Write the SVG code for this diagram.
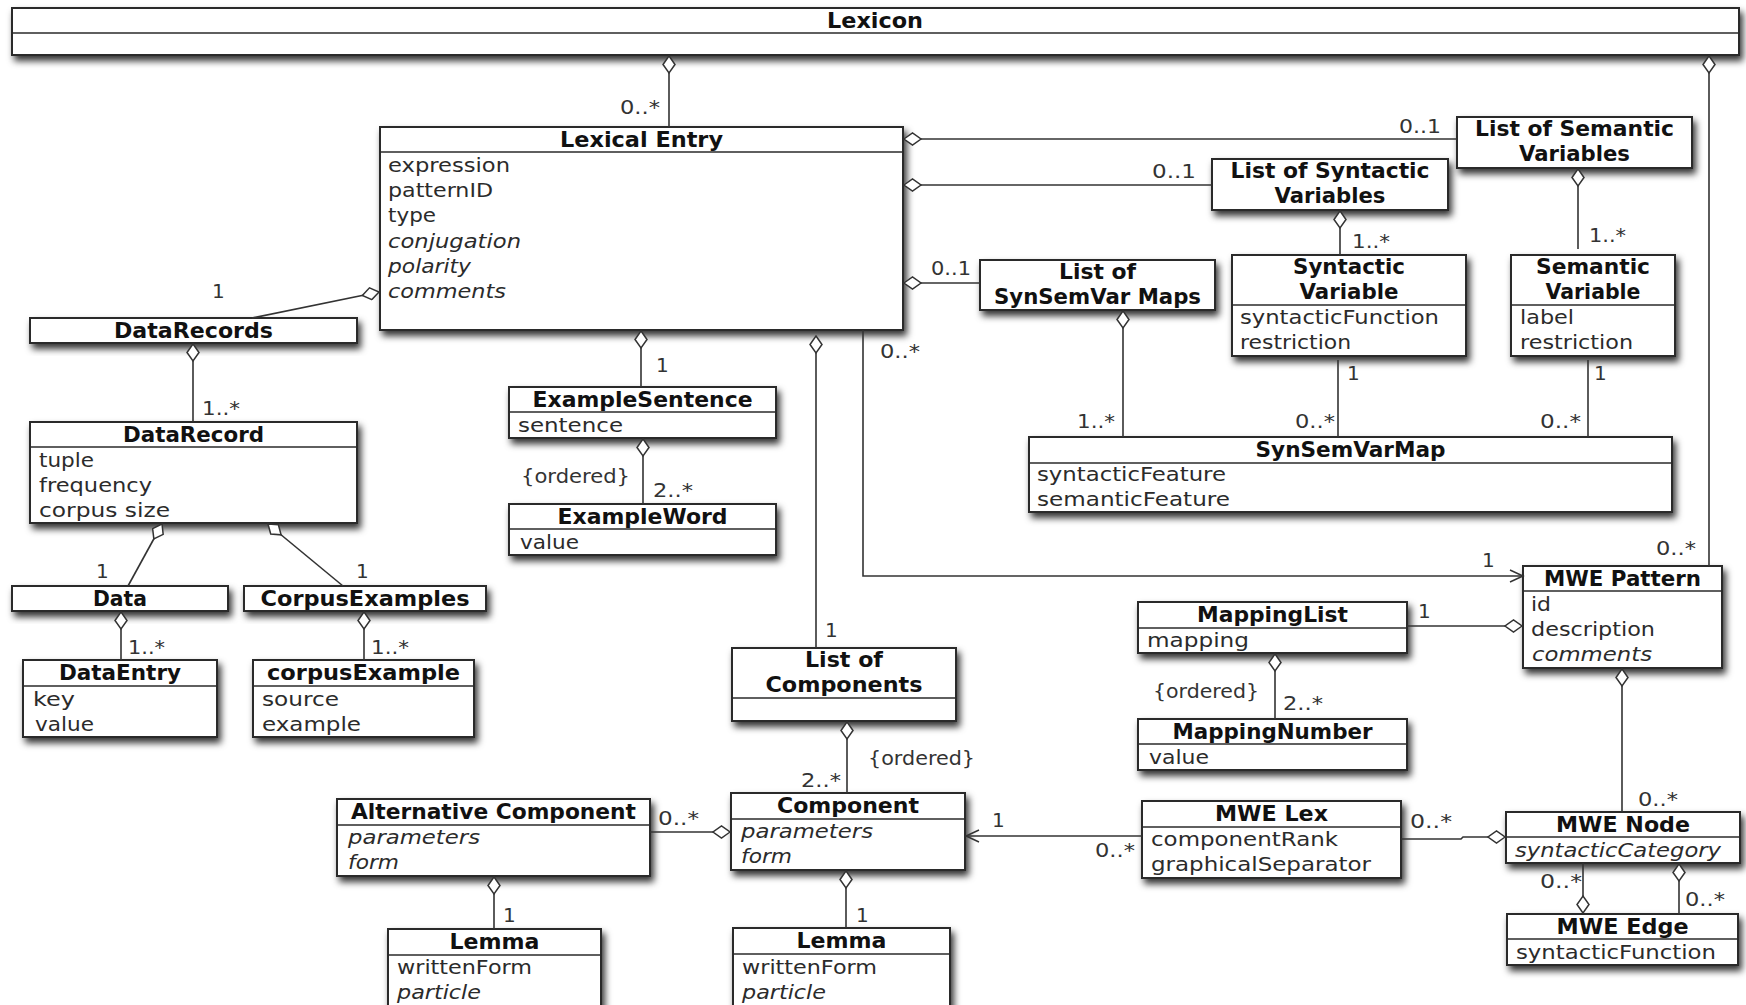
<svg xmlns="http://www.w3.org/2000/svg" width="1746" height="1005" viewBox="0 0 1746 1005">
<style>
  .box { fill: #fff; stroke: #2a2a2a; stroke-width: 2; filter: url(#shadow); }
  .sep { stroke: #2a2a2a; stroke-width: 1.6; fill: none; }
  .t { font-family: "DejaVu Sans", "Liberation Sans", sans-serif; font-size: 21px; font-weight: bold; fill: #111; text-anchor: middle; }
  .a { font-family: "DejaVu Sans", "Liberation Sans", sans-serif; font-size: 20px; fill: #2b2b2b; }
  .i { font-style: italic; }
  .m { font-family: "DejaVu Sans", "Liberation Sans", sans-serif; font-size: 20px; fill: #333; }
  .ln { fill: none; stroke: #333; stroke-width: 1.6; }
  .own { marker-start: url(#dia); }
  .nav { marker-end: url(#arr); }
</style>
<defs>
  <filter id="shadow" x="-0.1" y="-0.3" width="1.3" height="1.8">
    <feDropShadow dx="3" dy="5" stdDeviation="3.5" flood-color="#000" flood-opacity="0.8"/>
  </filter>
  <!-- hollow aggregation diamond, placed at the owning end of a path -->
  <marker id="dia" viewBox="-1 -7 20 14" refX="0" refY="0" markerWidth="20" markerHeight="14" orient="auto" markerUnits="userSpaceOnUse">
    <path d="M0,0 L8.5,-6 L17,0 L8.5,6 Z" fill="#fff" stroke="#333" stroke-width="1.5"/>
  </marker>
  <!-- open navigability arrow -->
  <marker id="arr" viewBox="-15 -8 17 16" refX="0" refY="0" markerWidth="17" markerHeight="16" orient="auto" markerUnits="userSpaceOnUse">
    <path d="M-13,-6 L0,0 L-13,6" fill="none" stroke="#333" stroke-width="1.5"/>
  </marker>
</defs>
<rect x="0" y="0" width="1746" height="1005" fill="#fff"/>

<g id="n-lexicon">
  <rect class="box" x="12" y="8" width="1727" height="47"/>
  <line class="sep" x1="12" y1="33" x2="1739" y2="33"/>
  <text class="t" x="875" y="28" textLength="96" lengthAdjust="spacingAndGlyphs">Lexicon</text>
</g>

<g id="n-lexical-entry">
  <rect class="box" x="380" y="127" width="523" height="203"/>
  <line class="sep" x1="380" y1="152" x2="903" y2="152"/>
  <text class="t" x="641.5" y="147" textLength="163" lengthAdjust="spacingAndGlyphs">Lexical Entry</text>
  <text class="a" x="388" y="172" textLength="122" lengthAdjust="spacingAndGlyphs">expression</text>
  <text class="a" x="388" y="197" textLength="105" lengthAdjust="spacingAndGlyphs">patternID</text>
  <text class="a" x="388" y="222" textLength="48" lengthAdjust="spacingAndGlyphs">type</text>
  <text class="a i" x="388" y="248" textLength="133" lengthAdjust="spacingAndGlyphs">conjugation</text>
  <text class="a i" x="388" y="273" textLength="83" lengthAdjust="spacingAndGlyphs">polarity</text>
  <text class="a i" x="388" y="298" textLength="118" lengthAdjust="spacingAndGlyphs">comments</text>
</g>

<g id="n-datarecords">
  <rect class="box" x="30" y="318" width="327" height="25"/>
  <text class="t" x="193.5" y="338" textLength="159" lengthAdjust="spacingAndGlyphs">DataRecords</text>
</g>

<g id="n-datarecord">
  <rect class="box" x="30" y="422" width="327" height="101"/>
  <line class="sep" x1="30" y1="447" x2="357" y2="447"/>
  <text class="t" x="193.5" y="442" textLength="141" lengthAdjust="spacingAndGlyphs">DataRecord</text>
  <text class="a" x="39" y="467" textLength="55" lengthAdjust="spacingAndGlyphs">tuple</text>
  <text class="a" x="39" y="492" textLength="113" lengthAdjust="spacingAndGlyphs">frequency</text>
  <text class="a" x="39" y="517" textLength="131" lengthAdjust="spacingAndGlyphs">corpus size</text>
</g>

<g id="n-data">
  <rect class="box" x="12" y="586" width="216" height="25"/>
  <text class="t" x="120" y="606" textLength="54" lengthAdjust="spacingAndGlyphs">Data</text>
</g>

<g id="n-corpusexamples">
  <rect class="box" x="244" y="586" width="242" height="25"/>
  <text class="t" x="365" y="606" textLength="209" lengthAdjust="spacingAndGlyphs">CorpusExamples</text>
</g>

<g id="n-dataentry">
  <rect class="box" x="23" y="660" width="194" height="77"/>
  <line class="sep" x1="23" y1="686" x2="217" y2="686"/>
  <text class="t" x="120" y="680" textLength="122" lengthAdjust="spacingAndGlyphs">DataEntry</text>
  <text class="a" x="33" y="706" textLength="42" lengthAdjust="spacingAndGlyphs">key</text>
  <text class="a" x="35" y="731" textLength="59" lengthAdjust="spacingAndGlyphs">value</text>
</g>

<g id="n-corpusexample">
  <rect class="box" x="253" y="660" width="221" height="77"/>
  <line class="sep" x1="253" y1="686" x2="474" y2="686"/>
  <text class="t" x="363.5" y="680" textLength="193" lengthAdjust="spacingAndGlyphs">corpusExample</text>
  <text class="a" x="262" y="706" textLength="77" lengthAdjust="spacingAndGlyphs">source</text>
  <text class="a" x="262" y="731" textLength="99" lengthAdjust="spacingAndGlyphs">example</text>
</g>

<g id="n-examplesentence">
  <rect class="box" x="509" y="387" width="267" height="51"/>
  <line class="sep" x1="509" y1="412" x2="776" y2="412"/>
  <text class="t" x="642.5" y="407" textLength="220" lengthAdjust="spacingAndGlyphs">ExampleSentence</text>
  <text class="a" x="518" y="432" textLength="105" lengthAdjust="spacingAndGlyphs">sentence</text>
</g>

<g id="n-exampleword">
  <rect class="box" x="509" y="504" width="267" height="51"/>
  <line class="sep" x1="509" y1="529" x2="776" y2="529"/>
  <text class="t" x="642.5" y="524" textLength="170" lengthAdjust="spacingAndGlyphs">ExampleWord</text>
  <text class="a" x="520" y="549" textLength="59" lengthAdjust="spacingAndGlyphs">value</text>
</g>

<g id="n-list-of-components">
  <rect class="box" x="732" y="648" width="224" height="73"/>
  <line class="sep" x1="732" y1="698" x2="956" y2="698"/>
  <text class="t" x="844" y="667" textLength="78" lengthAdjust="spacingAndGlyphs">List of</text>
  <text class="t" x="844" y="692" textLength="157" lengthAdjust="spacingAndGlyphs">Components</text>
</g>

<g id="n-component">
  <rect class="box" x="731" y="793" width="234" height="77"/>
  <line class="sep" x1="731" y1="819" x2="965" y2="819"/>
  <text class="t" x="848" y="813" textLength="142" lengthAdjust="spacingAndGlyphs">Component</text>
  <text class="a i" x="741" y="838" textLength="132" lengthAdjust="spacingAndGlyphs">parameters</text>
  <text class="a i" x="741" y="863" textLength="51" lengthAdjust="spacingAndGlyphs">form</text>
</g>

<g id="n-lemma-component">
  <rect class="box" x="733" y="928" width="217" height="92"/>
  <line class="sep" x1="733" y1="954" x2="950" y2="954"/>
  <text class="t" x="841.5" y="948" textLength="90" lengthAdjust="spacingAndGlyphs">Lemma</text>
  <text class="a" x="742" y="974" textLength="135" lengthAdjust="spacingAndGlyphs">writtenForm</text>
  <text class="a i" x="742" y="999" textLength="84" lengthAdjust="spacingAndGlyphs">particle</text>
</g>

<g id="n-alternative-component">
  <rect class="box" x="337" y="799" width="313" height="77"/>
  <line class="sep" x1="337" y1="825" x2="650" y2="825"/>
  <text class="t" x="493.5" y="819" textLength="285" lengthAdjust="spacingAndGlyphs">Alternative Component</text>
  <text class="a i" x="348" y="844" textLength="132" lengthAdjust="spacingAndGlyphs">parameters</text>
  <text class="a i" x="348" y="869" textLength="51" lengthAdjust="spacingAndGlyphs">form</text>
</g>

<g id="n-lemma-alternative">
  <rect class="box" x="388" y="929" width="213" height="92"/>
  <line class="sep" x1="388" y1="955" x2="601" y2="955"/>
  <text class="t" x="494.5" y="949" textLength="90" lengthAdjust="spacingAndGlyphs">Lemma</text>
  <text class="a" x="397" y="974" textLength="135" lengthAdjust="spacingAndGlyphs">writtenForm</text>
  <text class="a i" x="397" y="999" textLength="84" lengthAdjust="spacingAndGlyphs">particle</text>
</g>

<g id="n-mwe-lex">
  <rect class="box" x="1142" y="801" width="259" height="77"/>
  <line class="sep" x1="1142" y1="827" x2="1401" y2="827"/>
  <text class="t" x="1271.5" y="821" textLength="113" lengthAdjust="spacingAndGlyphs">MWE Lex</text>
  <text class="a" x="1151" y="846" textLength="187" lengthAdjust="spacingAndGlyphs">componentRank</text>
  <text class="a" x="1151" y="871" textLength="220" lengthAdjust="spacingAndGlyphs">graphicalSeparator</text>
</g>

<g id="n-mwe-node">
  <rect class="box" x="1506" y="812" width="234" height="51"/>
  <line class="sep" x1="1506" y1="837" x2="1740" y2="837"/>
  <text class="t" x="1623" y="832" textLength="134" lengthAdjust="spacingAndGlyphs">MWE Node</text>
  <text class="a i" x="1515" y="857" textLength="206" lengthAdjust="spacingAndGlyphs">syntacticCategory</text>
</g>

<g id="n-mwe-edge">
  <rect class="box" x="1507" y="914" width="231" height="51"/>
  <line class="sep" x1="1507" y1="939" x2="1738" y2="939"/>
  <text class="t" x="1622.5" y="934" textLength="132" lengthAdjust="spacingAndGlyphs">MWE Edge</text>
  <text class="a" x="1516" y="959" textLength="200" lengthAdjust="spacingAndGlyphs">syntacticFunction</text>
</g>

<g id="n-mappinglist">
  <rect class="box" x="1138" y="602" width="269" height="51"/>
  <line class="sep" x1="1138" y1="628" x2="1407" y2="628"/>
  <text class="t" x="1272.5" y="622" textLength="151" lengthAdjust="spacingAndGlyphs">MappingList</text>
  <text class="a" x="1147" y="647" textLength="102" lengthAdjust="spacingAndGlyphs">mapping</text>
</g>

<g id="n-mappingnumber">
  <rect class="box" x="1138" y="719" width="269" height="51"/>
  <line class="sep" x1="1138" y1="744" x2="1407" y2="744"/>
  <text class="t" x="1272.5" y="739" textLength="200" lengthAdjust="spacingAndGlyphs">MappingNumber</text>
  <text class="a" x="1149" y="764" textLength="60" lengthAdjust="spacingAndGlyphs">value</text>
</g>

<g id="n-mwe-pattern">
  <rect class="box" x="1523" y="566" width="199" height="102"/>
  <line class="sep" x1="1523" y1="591" x2="1722" y2="591"/>
  <text class="t" x="1622.5" y="586" textLength="157" lengthAdjust="spacingAndGlyphs">MWE Pattern</text>
  <text class="a" x="1531" y="611" textLength="20" lengthAdjust="spacingAndGlyphs">id</text>
  <text class="a" x="1531" y="636" textLength="124" lengthAdjust="spacingAndGlyphs">description</text>
  <text class="a i" x="1532" y="661" textLength="120" lengthAdjust="spacingAndGlyphs">comments</text>
</g>

<g id="n-list-semantic-variables">
  <rect class="box" x="1457" y="117" width="235" height="51"/>
  <text class="t" x="1574.5" y="136" textLength="199" lengthAdjust="spacingAndGlyphs">List of Semantic</text>
  <text class="t" x="1574.5" y="161" textLength="111" lengthAdjust="spacingAndGlyphs">Variables</text>
</g>

<g id="n-list-syntactic-variables">
  <rect class="box" x="1212" y="159" width="236" height="51"/>
  <text class="t" x="1330" y="178" textLength="199" lengthAdjust="spacingAndGlyphs">List of Syntactic</text>
  <text class="t" x="1330" y="203" textLength="111" lengthAdjust="spacingAndGlyphs">Variables</text>
</g>

<g id="n-syntactic-variable">
  <rect class="box" x="1232" y="255" width="234" height="101"/>
  <line class="sep" x1="1232" y1="305" x2="1466" y2="305"/>
  <text class="t" x="1349" y="274" textLength="112" lengthAdjust="spacingAndGlyphs">Syntactic</text>
  <text class="t" x="1349" y="299" textLength="99" lengthAdjust="spacingAndGlyphs">Variable</text>
  <text class="a" x="1240" y="324" textLength="199" lengthAdjust="spacingAndGlyphs">syntacticFunction</text>
  <text class="a" x="1240" y="349" textLength="111" lengthAdjust="spacingAndGlyphs">restriction</text>
</g>

<g id="n-semantic-variable">
  <rect class="box" x="1511" y="255" width="164" height="101"/>
  <line class="sep" x1="1511" y1="305" x2="1675" y2="305"/>
  <text class="t" x="1593" y="274" textLength="114" lengthAdjust="spacingAndGlyphs">Semantic</text>
  <text class="t" x="1593" y="299" textLength="95" lengthAdjust="spacingAndGlyphs">Variable</text>
  <text class="a" x="1520" y="324" textLength="54" lengthAdjust="spacingAndGlyphs">label</text>
  <text class="a" x="1520" y="349" textLength="113" lengthAdjust="spacingAndGlyphs">restriction</text>
</g>

<g id="n-list-synsemvar-maps">
  <rect class="box" x="980" y="260" width="235" height="50"/>
  <text class="t" x="1097.5" y="279" textLength="77" lengthAdjust="spacingAndGlyphs">List of</text>
  <text class="t" x="1097.5" y="304" textLength="207" lengthAdjust="spacingAndGlyphs">SynSemVar Maps</text>
</g>

<g id="n-synsemvarmap">
  <rect class="box" x="1029" y="437" width="643" height="75"/>
  <line class="sep" x1="1029" y1="463" x2="1672" y2="463"/>
  <text class="t" x="1350.5" y="457" textLength="190" lengthAdjust="spacingAndGlyphs">SynSemVarMap</text>
  <text class="a" x="1037" y="481" textLength="189" lengthAdjust="spacingAndGlyphs">syntacticFeature</text>
  <text class="a" x="1037" y="506" textLength="193" lengthAdjust="spacingAndGlyphs">semanticFeature</text>
</g>

<g id="connectors">
  <!-- Lexicon owns entries and patterns -->
  <path class="ln own" d="M669,56 V127"/>
  <text class="m" x="620" y="114" textLength="40" lengthAdjust="spacingAndGlyphs">0..*</text>
  <path class="ln own" d="M1709,56 V566"/>
  <text class="m" x="1656" y="555" textLength="40" lengthAdjust="spacingAndGlyphs">0..*</text>

  <!-- Lexical Entry and its parts -->
  <path class="ln own" d="M379,292 L252,318"/>
  <text class="m" x="212" y="298">1</text>
  <path class="ln own" d="M641,331 V387"/>
  <text class="m" x="656" y="372">1</text>
  <path class="ln own" d="M816,336 V648"/>
  <text class="m" x="825" y="637">1</text>
  <path class="ln nav" d="M863,330 V576 H1523"/>
  <text class="m" x="880" y="358" textLength="40" lengthAdjust="spacingAndGlyphs">0..*</text>
  <text class="m" x="1482" y="567">1</text>
  <path class="ln own" d="M904,139 H1457"/>
  <text class="m" x="1399" y="133" textLength="42" lengthAdjust="spacingAndGlyphs">0..1</text>
  <path class="ln own" d="M904,185 H1212"/>
  <text class="m" x="1152" y="178" textLength="44" lengthAdjust="spacingAndGlyphs">0..1</text>
  <path class="ln own" d="M904,283 H980"/>
  <text class="m" x="931" y="275" textLength="40" lengthAdjust="spacingAndGlyphs">0..1</text>

  <!-- data records -->
  <path class="ln own" d="M193,344 V422"/>
  <text class="m" x="202" y="415" textLength="38" lengthAdjust="spacingAndGlyphs">1..*</text>
  <path class="ln own" d="M162,524 L128,586"/>
  <text class="m" x="96" y="578">1</text>
  <path class="ln own" d="M268,524 L343,586"/>
  <text class="m" x="356" y="578">1</text>
  <path class="ln own" d="M121,612 V660"/>
  <text class="m" x="128" y="654" textLength="37" lengthAdjust="spacingAndGlyphs">1..*</text>
  <path class="ln own" d="M364,612 V660"/>
  <text class="m" x="371" y="654" textLength="38" lengthAdjust="spacingAndGlyphs">1..*</text>

  <!-- example sentence -->
  <path class="ln own" d="M643,439 V504"/>
  <text class="m" x="521" y="483" textLength="109" lengthAdjust="spacingAndGlyphs">{ordered}</text>
  <text class="m" x="653" y="497" textLength="40" lengthAdjust="spacingAndGlyphs">2..*</text>

  <!-- components -->
  <path class="ln own" d="M847,722 V793"/>
  <text class="m" x="868" y="765" textLength="107" lengthAdjust="spacingAndGlyphs">{ordered}</text>
  <text class="m" x="801" y="787" textLength="40" lengthAdjust="spacingAndGlyphs">2..*</text>
  <path class="ln own" d="M846,871 V928"/>
  <text class="m" x="856" y="922">1</text>
  <path class="ln own" d="M730,832 H650"/>
  <text class="m" x="658" y="825" textLength="41" lengthAdjust="spacingAndGlyphs">0..*</text>
  <path class="ln own" d="M494,877 V929"/>
  <text class="m" x="503" y="922">1</text>
  <path class="ln nav" d="M1142,836 H966"/>
  <text class="m" x="992" y="827">1</text>
  <text class="m" x="1095" y="857" textLength="40" lengthAdjust="spacingAndGlyphs">0..*</text>

  <!-- MWE pattern structure -->
  <path class="ln own" d="M1522,626 H1407"/>
  <text class="m" x="1418" y="618">1</text>
  <path class="ln own" d="M1275,654 V719"/>
  <text class="m" x="1153" y="698" textLength="106" lengthAdjust="spacingAndGlyphs">{ordered}</text>
  <text class="m" x="1283" y="710" textLength="40" lengthAdjust="spacingAndGlyphs">2..*</text>
  <path class="ln own" d="M1622,669 V812"/>
  <text class="m" x="1638" y="806" textLength="40" lengthAdjust="spacingAndGlyphs">0..*</text>
  <path class="ln own" d="M1505,837 H1463 L1461,839 H1401"/>
  <text class="m" x="1410" y="828" textLength="42" lengthAdjust="spacingAndGlyphs">0..*</text>
  <path class="ln own" d="M1583,913 V863"/>
  <text class="m" x="1540" y="888" textLength="42" lengthAdjust="spacingAndGlyphs">0..*</text>
  <path class="ln own" d="M1679,864 V914"/>
  <text class="m" x="1685" y="906" textLength="40" lengthAdjust="spacingAndGlyphs">0..*</text>

  <!-- syntactic / semantic variables -->
  <path class="ln own" d="M1340,211 V255"/>
  <text class="m" x="1352" y="248" textLength="38" lengthAdjust="spacingAndGlyphs">1..*</text>
  <path class="ln own" d="M1578,169 V249"/>
  <text class="m" x="1589" y="242" textLength="37" lengthAdjust="spacingAndGlyphs">1..*</text>
  <path class="ln own" d="M1123,311 V437"/>
  <text class="m" x="1077" y="428" textLength="38" lengthAdjust="spacingAndGlyphs">1..*</text>
  <path class="ln" d="M1338,360 V437"/>
  <text class="m" x="1347" y="380">1</text>
  <text class="m" x="1295" y="428" textLength="40" lengthAdjust="spacingAndGlyphs">0..*</text>
  <path class="ln" d="M1588,360 V437"/>
  <text class="m" x="1594" y="380">1</text>
  <text class="m" x="1540" y="428" textLength="41" lengthAdjust="spacingAndGlyphs">0..*</text>
</g>
</svg>
